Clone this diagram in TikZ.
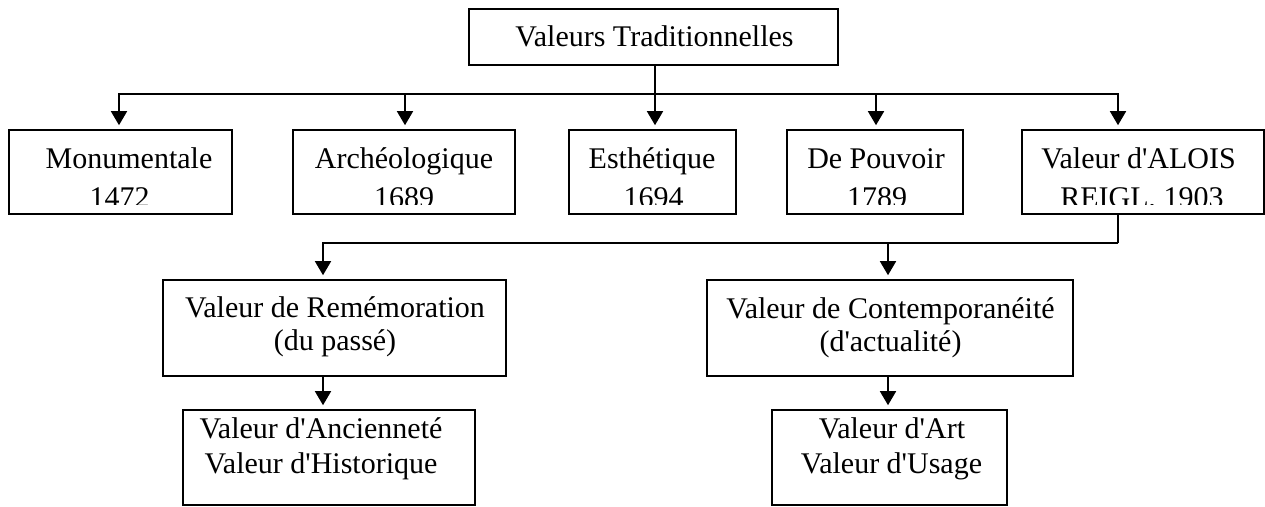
\documentclass[tikz,border=0pt]{standalone}
\usepackage{fontspec}
\setmainfont{Liberation Serif}[Ligatures=TeXOff]
\usetikzlibrary{arrows.meta}
\begin{document}
\begin{tikzpicture}[x=1pt,y=-1pt,
  box/.style={draw,line width=1.6pt,rectangle,inner sep=0pt},
  lbl/.style={anchor=base,inner sep=0pt,font=\fontsize{30}{36}\selectfont},
  conn/.style={line width=1.6pt},
  arr/.style={conn,-{Triangle[width=16pt,length=14pt]},shorten >=4pt}]
\useasboundingbox (0,0) rectangle (1265,506);
% boxes
\node[box,minimum width=369,minimum height=56] (top) at (653.5,37) {};
\node[box,minimum width=223,minimum height=84] (mon) at (120.5,172) {};
\node[box,minimum width=222,minimum height=84] (arc) at (404,172) {};
\node[box,minimum width=167,minimum height=84] (est) at (652.5,172) {};
\node[box,minimum width=176,minimum height=84] (pou) at (875,172) {};
\node[box,minimum width=242,minimum height=84] (alo) at (1143,172) {};
\node[box,minimum width=343,minimum height=96] (rem) at (334.5,328) {};
\node[box,minimum width=366,minimum height=96] (con) at (890,328) {};
\node[box,minimum width=292,minimum height=95] (anc) at (329,457.5) {};
\node[box,minimum width=235,minimum height=95] (art) at (889.5,457.5) {};
% labels
\node[lbl] (ttop) at (654.5,46) {Valeurs Traditionnelles};
\node[lbl] (tmon) at (129,168) {Monumentale};
\node[lbl] (tarc) at (404,168) {Archéologique};
\node[lbl] (test) at (652,168) {Esthétique};
\node[lbl] (tpou) at (876,168) {De Pouvoir};
\node[lbl] (talo) at (1138.5,168) {Valeur d'ALOIS};
\begin{scope}
  \clip (0,131) rectangle (1265,204);
  \node[lbl] (ymon) at (119.5,207) {1472};
  \node[lbl] (yarc) at (404,207) {1689};
  \node[lbl] (yest) at (653.5,207) {1694};
  \node[lbl] (ypou) at (877,207) {1789};
  \node[lbl] (yalo) at (1142,207) {REIGL, 1903};
\end{scope}
\node[lbl] (trem1) at (335,317) {Valeur de Remémoration};
\node[lbl] (trem2) at (335,350) {(du passé)};
\node[lbl] (tcon1) at (890.5,318) {Valeur de Contemporanéité};
\node[lbl] (tcon2) at (890.5,351) {(d'actualité)};
\node[lbl] (tanc1) at (321,438) {Valeur d'Ancienneté};
\node[lbl] (tanc2) at (321,473) {Valeur d'Historique};
\node[lbl] (tart1) at (892,438) {Valeur d'Art};
\node[lbl] (tart2) at (891.5,473) {Valeur d'Usage};
% connectors
\coordinate (j1) at (655,94);
\draw[conn] ([xshift=1.5pt]top.south) -- (j1);
\draw[arr] (j1) -| ([xshift=-1.5pt]mon.north);
\draw[arr] (j1) -| ([xshift=1pt]arc.north);
\draw[arr] (j1) -- ([xshift=2.5pt]est.north);
\draw[arr] (j1) -| ([xshift=1pt]pou.north);
\draw[arr] (j1) -| ([xshift=-25pt]alo.north);
\coordinate (j2) at (1118,243);
\draw[conn] ([xshift=-25pt]alo.south) -- (j2);
\draw[arr] (j2) -| ([xshift=-11.5pt]rem.north);
\draw[arr] (j2) -| ([xshift=-2pt]con.north);
\draw[arr] ([xshift=-11.5pt]rem.south) -- ([xshift=-6pt]anc.north);
\draw[arr] ([xshift=-2pt]con.south) -- ([xshift=-1.5pt]art.north);
\end{tikzpicture}
\end{document}
